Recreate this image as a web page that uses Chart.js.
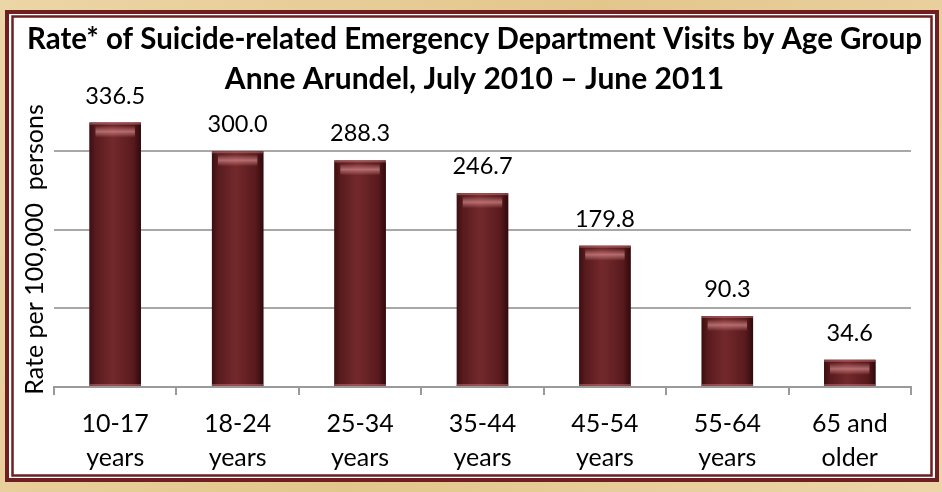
<!DOCTYPE html>
<html>
<head>
<meta charset="utf-8">
<script src="https://cdn.jsdelivr.net/npm/chart.js@4.4.1/dist/chart.umd.min.js"></script>
<style>
  html, body { margin: 0; padding: 0; background: #e8d09c; }
  #wrap { width: 942px; height: 492px; position: relative; }
</style>
</head>
<body>
<div id="wrap"><canvas id="rateChart"></canvas></div>
<script>
// data
const ageGroups = [['10-17', 'years'], ['18-24', 'years'], ['25-34', 'years'], ['35-44', 'years'],
                   ['45-54', 'years'], ['55-64', 'years'], ['65 and', 'older']];
const rates = [336.5, 300.0, 288.3, 246.7, 179.8, 90.3, 34.6];
const titleLines = ['Rate* of Suicide-related Emergency Department Visits by Age Group',
                    'Anne Arundel, July 2010 \u2013 June 2011'];
const yAxisTitle = 'Rate per 100,000  persons';

const FONT = 'Lato, "Open Sans", sans-serif';

// parchment + double maroon frame behind the chart
const framePlugin = {
    id: 'frame',
    afterLayout(chart) {
        // title sits a bit right of the plot centre in the original
        if (chart.titleBlock) {
            chart.titleBlock.left += 11;
            chart.titleBlock.right += 11;
        }
    },
    beforeDraw(chart) {
        const ctx = chart.ctx;
        const w = chart.width, h = chart.height;
        ctx.save();
        const g = ctx.createLinearGradient(0, 0, w, h);
        g.addColorStop(0, '#ecd6a6');
        g.addColorStop(0.5, '#e3c68c');
        g.addColorStop(1, '#ecd6a8');
        ctx.fillStyle = g;
        ctx.fillRect(0, 0, w, h);
        ctx.fillStyle = '#ffffff';
        ctx.fillRect(5, 10, w - 8, h - 20);
        ctx.strokeStyle = '#6e1f22';
        ctx.lineWidth = 4;
        ctx.strokeRect(7, 12, w - 12, h - 24);
        ctx.lineWidth = 2.5;
        ctx.strokeRect(12.5, 16.5, w - 23, h - 33);
        ctx.restore();
    }
};

// cylinder-ish shading on the bars + value labels above them
const barLookPlugin = {
    id: 'barLook',
    afterDatasetsDraw(chart) {
        const ctx = chart.ctx;
        const meta = chart.getDatasetMeta(0);
        ctx.save();
        meta.data.forEach((bar, i) => {
            const p = bar.getProps(['x', 'y', 'base', 'width'], true);
            const left = p.x - p.width / 2;
            const top = p.y, hgt = p.base - p.y;

            const hg = ctx.createLinearGradient(left, 0, left + p.width, 0);
            hg.addColorStop(0, '#3c0f11');
            hg.addColorStop(0.12, '#581b1e');
            hg.addColorStop(0.45, '#73292c');
            hg.addColorStop(0.85, '#591a1d');
            hg.addColorStop(1, '#2e0a0c');
            ctx.fillStyle = hg;
            ctx.fillRect(left, top, p.width, hgt);

            // top cap highlight
            const vg = ctx.createLinearGradient(0, top + 3, 0, top + 15);
            vg.addColorStop(0, 'rgba(215,140,140,0)');
            vg.addColorStop(0.5, 'rgba(215,140,140,0.7)');
            vg.addColorStop(1, 'rgba(215,140,140,0)');
            ctx.fillStyle = vg;
            ctx.fillRect(left + 6, top + 3, p.width - 12, 12);
            ctx.fillStyle = 'rgba(200,120,120,0.5)';
            ctx.fillRect(left, top, p.width, 2);
            ctx.fillRect(left, p.base - 2, p.width, 2);

            ctx.fillStyle = '#000';
            ctx.font = '23.5px ' + FONT;
            ctx.textAlign = 'center';
            ctx.textBaseline = 'alphabetic';
            ctx.fillText(rates[i].toFixed(1), p.x, top - 19);
        });
        ctx.restore();
    }
};

function initChart() {
    const ctx = document.getElementById('rateChart').getContext('2d');
    new Chart(ctx, {
        type: 'bar',
        data: {
            labels: ageGroups,
            datasets: [{
                data: rates,
                backgroundColor: '#6b2326',
                barPercentage: 0.42,
                categoryPercentage: 1
            }]
        },
        options: {
            responsive: true,
            maintainAspectRatio: false,
            animation: false,
            layout: { padding: { top: 9, left: 16, right: 31, bottom: 5 } },
            plugins: {
                legend: { display: false },
                tooltip: { enabled: false },
                title: {
                    display: true,
                    text: titleLines,
                    color: '#000',
                    font: { family: FONT, size: 30, weight: 'bold', lineHeight: 1.333 },
                    padding: { top: 10, bottom: 13 }
                }
            },
            scales: {
                x: {
                    grid: { drawOnChartArea: false, drawTicks: true, tickLength: 8, color: '#9a9a9a', lineWidth: 2 },
                    border: { display: true, color: '#9a9a9a', width: 2 },
                    ticks: { color: '#000', font: { family: FONT, size: 25, lineHeight: 1.36 }, padding: 12, maxRotation: 0 }
                },
                y: {
                    min: 0,
                    max: 350,
                    ticks: { display: false, stepSize: 100 },
                    border: { display: false },
                    grid: {
                        drawTicks: false,
                        lineWidth: 2,
                        color: (c) => (c.tick && (c.tick.value === 0 || c.tick.value === 350)) ? 'rgba(0,0,0,0)' : '#a8a8a8'
                    },
                    title: {
                        display: true,
                        text: yAxisTitle,
                        color: '#000',
                        font: { family: FONT, size: 25 },
                        padding: { top: 4, bottom: 4 }
                    }
                }
            }
        },
        plugins: [framePlugin, barLookPlugin]
    });
}

window.onload = initChart;
</script>
</body>
</html>
